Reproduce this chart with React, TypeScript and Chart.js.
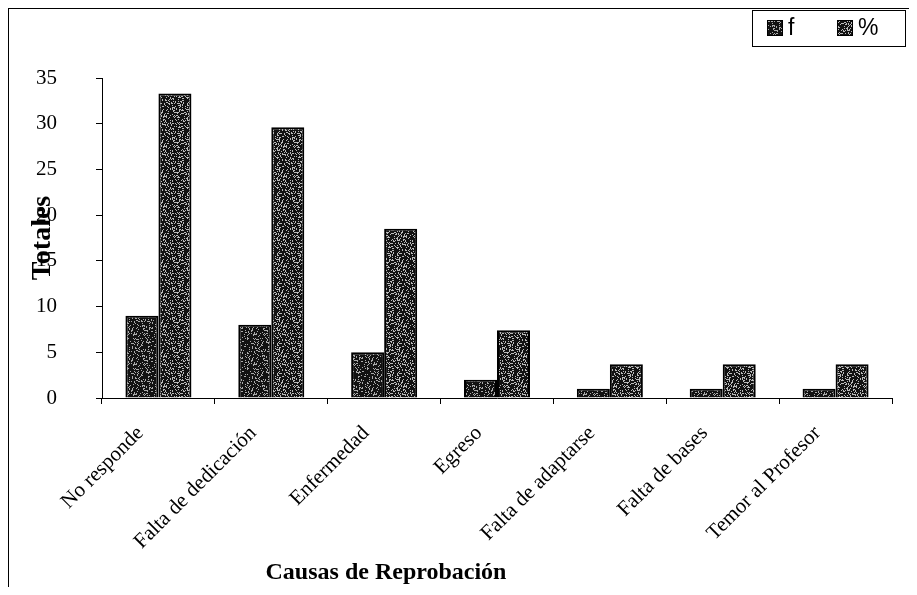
import React, { useEffect, useRef } from "react";
import { Chart, registerables } from "chart.js";

Chart.register(...registerables);

const categories = [
  "No responde",
  "Falta de dedicación",
  "Enfermedad",
  "Egreso",
  "Falta de adaptarse",
  "Falta de bases",
  "Temor al Profesor",
];
const frequency = [9, 8, 5, 2, 1, 1, 1];
const percentage = [33.3, 29.6, 18.5, 7.4, 3.7, 3.7, 3.7];
const yTicks = [0, 5, 10, 15, 20, 25, 30, 35];
const seriesLabels = ["f", "%"];
const xTitle = "Causas de Reprobación";
const yTitle = "Totales";

const FONT = '"Liberation Serif", "DejaVu Serif", serif';
const SANS = '"Liberation Sans", Arial, sans-serif';

function makePattern(target: CanvasRenderingContext2D, dark: string, light: string, seed: number, density: number) {
  const size = 30;
  const c = document.createElement("canvas");
  c.width = size;
  c.height = size;
  const ctx = c.getContext("2d")!;
  ctx.fillStyle = dark;
  ctx.fillRect(0, 0, size, size);
  ctx.fillStyle = light;
  for (let y = 0; y < size; y++) {
    for (let x = 0; x < size; x++) {
      let h = Math.imul(x + 17, 374761393) ^ Math.imul(y + seed, 668265263);
      h = Math.imul(h ^ (h >>> 13), 1274126177);
      h = (h ^ (h >>> 16)) >>> 0;
      if (h % 100 < density) ctx.fillRect(x, y, 1, 1);
    }
  }
  return target.createPattern(c, "repeat")!;
}

export default function App() {
  const ref = useRef<HTMLCanvasElement | null>(null);

  useEffect(() => {
    const canvas = ref.current!;
    const ctx = canvas.getContext("2d")!;
    const patF = makePattern(ctx, "#121212", "#aaaaaa", 3, 20);
    const patP = makePattern(ctx, "#121212", "#bbbbbb", 11, 26);
    const fills = [patF, patP];

    const extrasPlugin = {
      id: "extras",
      afterDraw(chart: any) {
        const c = chart.ctx as CanvasRenderingContext2D;
        c.save();
        // legend box
        const bx = 743, by = 1, bw = 153, bh = 36;
        c.strokeStyle = "#000";
        c.lineWidth = 1;
        c.strokeRect(bx + 0.5, by + 0.5, bw, bh);
        const items = [
          { x: 758, label: seriesLabels[0] },
          { x: 828, label: seriesLabels[1] },
        ];
        c.font = `23px ${SANS}`;
        c.textBaseline = "middle";
        c.textAlign = "left";
        items.forEach((it, i) => {
          c.fillStyle = fills[i];
          c.fillRect(it.x, 11, 16, 16);
          c.strokeStyle = "#000";
          c.strokeRect(it.x + 0.5, 11.5, 15, 15);
          c.fillStyle = "#000";
          c.fillText(it.label, it.x + 21, 20);
        });
        // x axis title
        c.font = `bold 24px ${FONT}`;
        c.textAlign = "center";
        c.textBaseline = "middle";
        c.fillStyle = "#000";
        c.fillText(xTitle, 377, 564);
        c.restore();
      },
    };

    const chart = new Chart(canvas, {
      type: "bar",
      data: {
        labels: categories,
        datasets: [
          {
            label: seriesLabels[0],
            data: frequency,
            backgroundColor: patF as any,
            borderColor: "#000",
            borderWidth: 2,
            categoryPercentage: 0.585,
            barPercentage: 1,
          },
          {
            label: seriesLabels[1],
            data: percentage,
            backgroundColor: patP as any,
            borderColor: "#000",
            borderWidth: 2,
            categoryPercentage: 0.585,
            barPercentage: 1,
          },
        ],
      },
      options: {
        responsive: false,
        animation: false,
        layout: { padding: { top: 69, left: 17, right: 17, bottom: 0 } },
        plugins: {
          legend: { display: false },
          tooltip: { enabled: false },
        },
        scales: {
          x: {
            grid: {
              display: true,
              drawOnChartArea: false,
              drawTicks: true,
              tickLength: 6,
              color: "#000",
              offset: true,
            },
            border: { color: "#000", width: 1 },
            ticks: {
              minRotation: 45,
              maxRotation: 45,
              autoSkip: false,
              color: "#000",
              padding: 17,
              labelOffset: -18,
              font: { family: FONT, size: 21 },
            },
            title: { display: false, text: xTitle },
            afterFit: (s: any) => {
              s.height = 189;
            },
          },
          y: {
            min: 0,
            max: 35,
            afterBuildTicks: (s: any) => {
              s.ticks = yTicks.map((v) => ({ value: v }));
            },
            grid: {
              display: true,
              drawOnChartArea: false,
              drawTicks: true,
              tickLength: 6,
              color: "#000",
            },
            border: { color: "#000", width: 1 },
            ticks: {
              color: "#000",
              padding: 39,
              font: { family: FONT, size: 21 },
            },
            title: {
              display: true,
              text: yTitle,
              color: "#000",
              font: { family: FONT, size: 28, weight: "bold" },
              padding: { top: 0, bottom: 0 },
            },
            afterFit: (s: any) => {
              s.width = 76;
            },
          },
        },
      },
      plugins: [extrasPlugin],
    });

    return () => chart.destroy();
  }, []);

  return (
    <div
      style={{
        width: 901,
        height: 579,
        boxSizing: "border-box",
        borderLeft: "1px solid #000",
        borderTop: "1px solid #000",
        background: "#fff",
      }}
    >
      <canvas ref={ref} width={900} height={578} style={{ display: "block" }} />
    </div>
  );
}
